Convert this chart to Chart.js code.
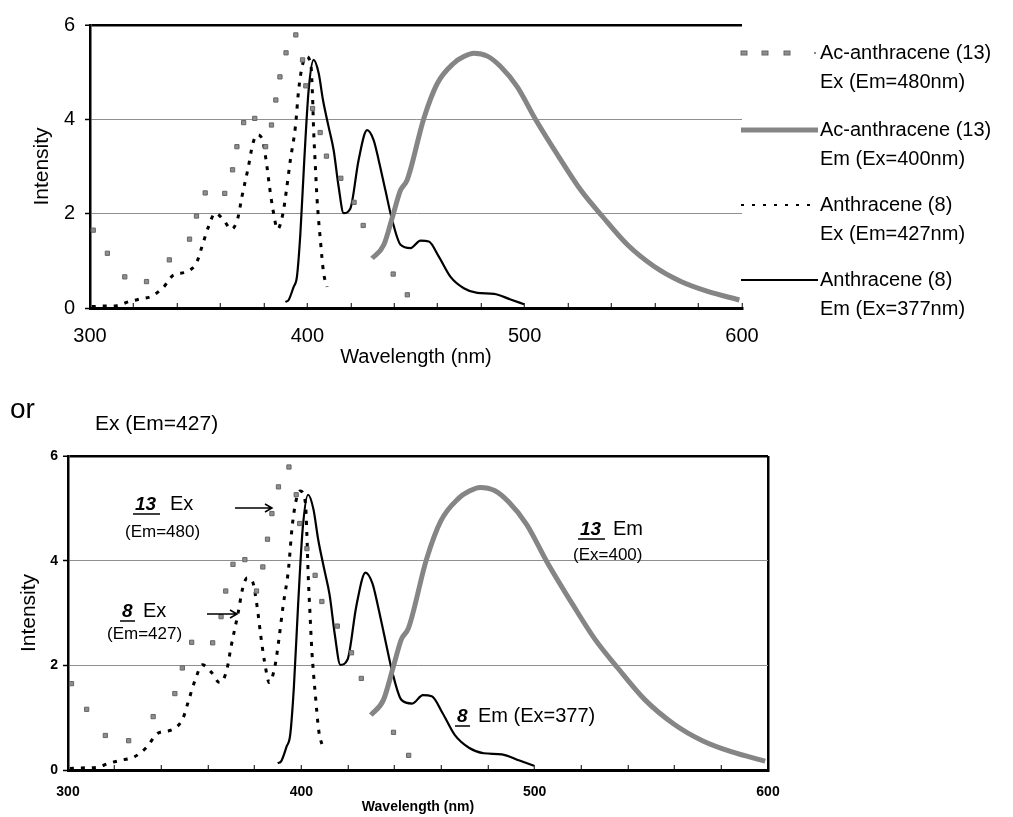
<!DOCTYPE html>
<html>
<head>
<meta charset="utf-8">
<script src="https://cdn.jsdelivr.net/npm/chart.js@4.4.1/dist/chart.umd.min.js"></script>
<style>
  body { margin: 0; background: #fff; }
  #top { position: absolute; left: 0; top: 0; }
  #bottom { position: absolute; left: 0; top: 380px; }
</style>
</head>
<body>
<canvas id="top" width="1013" height="380"></canvas>
<canvas id="bottom" width="1013" height="437"></canvas>
<script>
// values (wavelength in nm, intensity)
const acExNm  = [301.5, 308, 316, 326, 336.5, 345.8, 349, 353, 362, 365.6, 367.6, 370.7, 375.8, 380.8, 383.5, 385.5, 387.4, 390.2, 394.7, 397.8, 399.3, 402.4, 405.9, 408.8, 415.4, 421.5, 425.7, 439.5, 446];
const acExVal = [1.65, 1.16, 0.66, 0.56, 1.02, 1.46, 1.95, 2.44, 2.43, 2.93, 3.42, 3.93, 4.02, 3.42, 3.88, 4.41, 4.90, 5.41, 5.79, 5.26, 4.71, 4.23, 3.72, 3.22, 2.75, 2.24, 1.75, 0.72, 0.28];

const acEmNm  = [429.8, 435.2, 439.6, 442.9, 445.9, 453.6, 459.8, 467.4, 472, 476.6, 482.8, 488.9, 496.6, 505.1, 516.6, 525.8, 535.8, 547.3, 559.6, 571.9, 584.2, 598.8];
const acEmVal = [1.05, 1.34, 2.0, 2.5, 2.71, 4.02, 4.76, 5.19, 5.33, 5.40, 5.34, 5.12, 4.69, 3.99, 3.14, 2.50, 1.94, 1.34, 0.88, 0.56, 0.35, 0.17];

const anExNm  = [300.8, 306, 312.3, 317.6, 323, 328.4, 333.8, 338.4, 344.6, 349.2, 351.5, 354.5, 357.6, 361.4, 365, 368, 369.9, 372.9, 374.8, 376.8, 379.1, 381, 382.6, 384.2, 386.3, 388.8, 390.3, 392.2, 394.5, 396, 397.6, 399.5, 401.7, 402.4, 402.9, 403.7, 404.5, 406, 407.5, 409.1];
const anExVal = [0.03, 0.04, 0.05, 0.13, 0.19, 0.25, 0.44, 0.70, 0.77, 0.98, 1.30, 1.72, 2.01, 1.87, 1.67, 1.90, 2.36, 3.0, 3.46, 3.67, 3.60, 3.14, 2.57, 2.08, 1.67, 2.01, 2.47, 3.14, 3.84, 4.62, 5.12, 5.33, 5.12, 4.48, 3.77, 3.0, 2.29, 1.44, 0.74, 0.45];

const anEmNm  = [389.9, 391.4, 393.7, 395.2, 396.8, 398.6, 400.6, 402.9, 405.2, 407.2, 409.8, 412.1, 414.4, 416.7, 419.8, 423.6, 427.5, 430.5, 432.8, 435.9, 439, 442.9, 447.5, 452.1, 455.9, 460.5, 465.9, 472, 478.2, 485.9, 493.5, 499.7];
const anEmVal = [0.13, 0.17, 0.45, 0.66, 1.58, 3.14, 4.62, 5.26, 4.98, 4.41, 3.84, 3.35, 2.57, 2.01, 2.11, 3.14, 3.77, 3.56, 3.14, 2.50, 1.87, 1.34, 1.27, 1.43, 1.41, 1.09, 0.66, 0.42, 0.32, 0.30, 0.18, 0.08];

const legendNames = [
  ['Ac-anthracene (13)', 'Ex (Em=480nm)'],
  ['Ac-anthracene (13)', 'Em (Ex=400nm)'],
  ['Anthracene (8)', 'Ex (Em=427nm)'],
  ['Anthracene (8)', 'Em (Ex=377nm)']
];

const FONT = '"Liberation Sans", Arial, sans-serif';

function pts(xs, ys) {
  return xs.map((x, i) => ({ x: x, y: ys[i] }));
}

function makeDatasets() {
  return [
    {
      label: legendNames[0].join(' '),
      data: pts(acExNm, acExVal),
      showLine: false,
      pointStyle: 'rect',
      pointRadius: 3,
      backgroundColor: '#8e8e8e',
      borderColor: '#666',
      borderWidth: 1
    },
    {
      label: legendNames[1].join(' '),
      data: pts(acEmNm, acEmVal),
      showLine: true,
      borderColor: '#858585',
      borderWidth: 5,
      pointRadius: 0,
      cubicInterpolationMode: 'monotone'
    },
    {
      label: legendNames[2].join(' '),
      data: pts(anExNm, anExVal),
      showLine: true,
      borderColor: '#000',
      borderWidth: 3,
      borderDash: [4, 7],
      pointRadius: 0,
      cubicInterpolationMode: 'monotone'
    },
    {
      label: legendNames[3].join(' '),
      data: pts(anEmNm, anEmVal),
      showLine: true,
      borderColor: '#000',
      borderWidth: 2.2,
      pointRadius: 0,
      cubicInterpolationMode: 'monotone'
    }
  ];
}

function makeScales(c) {
  return {
    x: {
      type: 'linear', min: 300, max: 600,
      afterFit: s => { s.height = c.xHeight; },
      ticks: {
        stepSize: 20, autoSkip: false, maxRotation: 0, color: '#000',
        font: c.tickFont, padding: c.xPad,
        callback: v => (v % 100 === 0 ? v : '')
      },
      grid: {
        drawOnChartArea: c.rightBorder,
        color: ctx => (c.rightBorder && ctx.tick && ctx.tick.value === 600) ? '#000' : 'rgba(0,0,0,0)',
        lineWidth: 2.5,
        tickLength: -5, tickColor: '#000', tickWidth: 1
      },
      border: { color: '#000', width: 3 },
      title: { display: true, text: 'Wavelength (nm)', color: '#000', font: c.xTitleFont, padding: { top: 0, bottom: 1 } }
    },
    y: {
      min: 0, max: 6,
      afterFit: s => { s.width = c.yWidth; },
      ticks: { stepSize: 2, color: '#000', font: c.tickFont, padding: c.yPad },
      grid: {
        color: ctx => ctx.tick.value === 6 ? '#000' : (ctx.tick.value === 0 ? 'rgba(0,0,0,0)' : '#8f8f8f'),
        lineWidth: ctx => ctx.tick.value === 6 ? 2.5 : 1,
        tickLength: 5, tickColor: '#000', tickWidth: 1.5
      },
      border: { color: '#000', width: 2.5 },
      title: { display: true, text: 'Intensity', color: '#000', font: { family: FONT, size: 21 }, padding: { top: c.yTitlePad, bottom: 0 } }
    }
  };
}

function drawMark(ctx, x, y) {
  ctx.fillStyle = '#8e8e8e';
  ctx.strokeStyle = '#666';
  ctx.lineWidth = 1;
  ctx.fillRect(x - 3, y - 2, 6, 4);
  ctx.strokeRect(x - 3, y - 2, 6, 4);
}

const topLegend = {
  id: 'topLegend',
  afterDraw(chart) {
    const ctx = chart.ctx;
    const rowY = [53, 130, 205, 280];
    ctx.save();
    legendNames.forEach((names, i) => {
      const y = rowY[i];
      ctx.beginPath();
      if (i === 0) {
        [744, 765, 787].forEach(x => drawMark(ctx, x, y));
        ctx.fillStyle = '#888';
        ctx.fillRect(814, y - 1, 2, 2);
      } else {
        ctx.setLineDash(i === 2 ? [3, 8] : []);
        ctx.strokeStyle = i === 1 ? '#858585' : '#000';
        ctx.lineWidth = i === 1 ? 5 : 2;
        ctx.moveTo(741, y);
        ctx.lineTo(818, y);
        ctx.stroke();
        ctx.setLineDash([]);
      }
      ctx.fillStyle = '#000';
      ctx.font = '20px ' + FONT;
      ctx.textBaseline = 'middle';
      ctx.fillText(names[0], 820, y);
      ctx.fillText(names[1], 820, y + 29);
    });
    ctx.restore();
  }
};

function arrow(ctx, x1, x2, y) {
  ctx.beginPath();
  ctx.lineWidth = 1.5;
  ctx.strokeStyle = '#000';
  ctx.moveTo(x1, y);
  ctx.lineTo(x2, y);
  ctx.moveTo(x2 - 7, y - 4);
  ctx.lineTo(x2, y);
  ctx.lineTo(x2 - 7, y + 4);
  ctx.stroke();
}

function numLabel(ctx, txt, x, y, w) {
  ctx.font = 'italic bold 19px ' + FONT;
  ctx.fillText(txt, x, y);
  ctx.beginPath();
  ctx.lineWidth = 1.5;
  ctx.moveTo(x - 2, y + 4);
  ctx.lineTo(x + w + 2, y + 4);
  ctx.stroke();
}

const bottomNotes = {
  id: 'bottomNotes',
  afterDraw(chart) {
    const ctx = chart.ctx;
    ctx.save();
    ctx.translate(0, -380); // page coordinates
    ctx.fillStyle = '#000';
    ctx.strokeStyle = '#000';
    ctx.textBaseline = 'alphabetic';
    ctx.font = '28px ' + FONT;
    ctx.fillText('or', 10, 418);
    ctx.font = '21px ' + FONT;
    ctx.fillText('Ex (Em=427)', 95, 430);

    numLabel(ctx, '13', 135, 510, 23);
    ctx.font = '20px ' + FONT;
    ctx.fillText('Ex', 170, 510);
    ctx.font = '17px ' + FONT;
    ctx.fillText('(Em=480)', 125, 537);
    arrow(ctx, 235, 272, 508);

    numLabel(ctx, '8', 122, 617, 11);
    ctx.font = '20px ' + FONT;
    ctx.fillText('Ex', 143, 617);
    ctx.font = '17px ' + FONT;
    ctx.fillText('(Em=427)', 107, 639);
    arrow(ctx, 207, 237, 614);

    numLabel(ctx, '13', 580, 535, 23);
    ctx.font = '20px ' + FONT;
    ctx.fillText('Em', 613, 535);
    ctx.font = '17px ' + FONT;
    ctx.fillText('(Ex=400)', 573, 560);

    numLabel(ctx, '8', 457, 722, 11);
    ctx.font = '20px ' + FONT;
    ctx.fillText('Em (Ex=377)', 478, 722);
    ctx.restore();
  }
};

new Chart(document.getElementById('top'), {
  type: 'scatter',
  data: { datasets: makeDatasets() },
  options: {
    responsive: false,
    animation: false,
    layout: { padding: { left: 0, top: 25, right: 271, bottom: 10 } },
    plugins: { legend: { display: false }, tooltip: { enabled: false } },
    scales: makeScales({
      xHeight: 62, yWidth: 90, xPad: 21, yPad: 10, yTitlePad: 30,
      rightBorder: false,
      tickFont: { family: FONT, size: 20 },
      xTitleFont: { family: FONT, size: 20 }
    })
  },
  plugins: [topLegend]
});

new Chart(document.getElementById('bottom'), {
  type: 'scatter',
  data: { datasets: makeDatasets() },
  options: {
    responsive: false,
    animation: false,
    layout: { padding: { left: 0, top: 76, right: 245, bottom: 0 } },
    plugins: { legend: { display: false }, tooltip: { enabled: false } },
    scales: makeScales({
      xHeight: 47, yWidth: 68, xPad: 19, yPad: 5, yTitlePad: 17,
      rightBorder: true,
      tickFont: { family: FONT, size: 14, weight: 'bold' },
      xTitleFont: { family: FONT, size: 14, weight: 'bold' }
    })
  },
  plugins: [bottomNotes]
});
</script>
</body>
</html>
